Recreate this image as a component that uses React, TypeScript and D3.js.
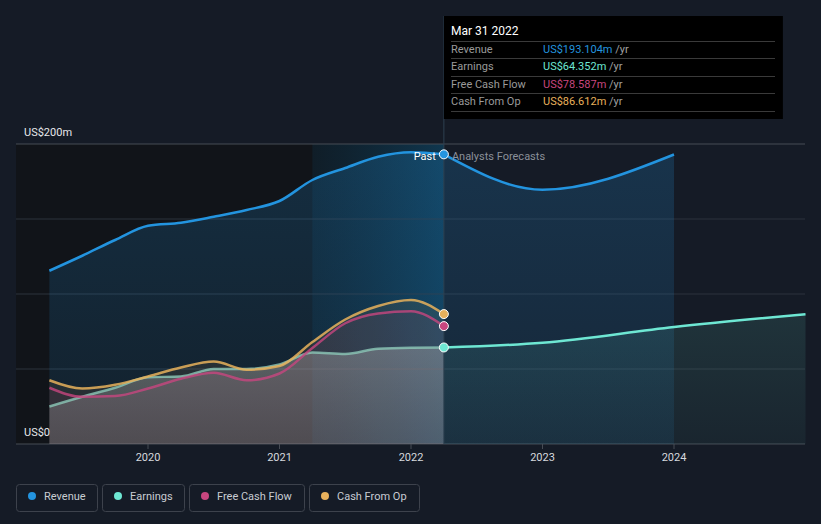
import React from "react";
import * as d3 from "d3";

const pastDates = [2019.25, 2019.5, 2019.75, 2020.0, 2020.25, 2020.5, 2020.75, 2021.0, 2021.25, 2021.5, 2021.75, 2022.0, 2022.25];
const revenuePast = [115.5, 125.5, 136, 145.5, 147.5, 151.5, 156, 162, 176, 184, 191.5, 194.5, 193.104];
const earningsPast = [25, 31.5, 37.5, 44.5, 45, 50, 50, 53, 61, 60, 63.5, 64.2, 64.352];
const fcfPast = [37.5, 31.5, 32, 37, 43.5, 47.5, 42.5, 47, 64, 80.5, 87, 88.5, 78.587];
const cfoPast = [42.5, 37, 39.5, 45, 51, 55, 49.5, 52, 68, 83, 92, 96, 86.612];

const revenueFcDates = [2022.25, 2023.0, 2024.0];
const revenueFc = [193.104, 169.5, 193];
const earningsFcDates = [2022.25, 2023.0, 2024.0, 2025.0];
const earningsFc = [64.352, 67.5, 78, 86.5];

const xTicks = [2020, 2021, 2022, 2023, 2024];
const yTicks = [0, 50, 100, 150, 200];

const seriesNames = ["Revenue", "Earnings", "Free Cash Flow", "Cash From Op"];
const seriesColors = ["#2394df", "#6ee7d3", "#c8467f", "#e8b15c"];
const tooltipValues = ["US$193.104m", "US$64.352m", "US$78.587m", "US$86.612m"];

const W = 821;
const H = 524;
const FONT = "Roboto, 'Open Sans', sans-serif";

export default function App() {
  const x = d3.scaleLinear().domain([2020, 2024]).range([148, 674]);
  const y = d3.scaleLinear().domain([0, 200]).range([444, 144]);
  const nowX = x(2022.25);
  const bandX = x(2021.25);
  const left = 16;
  const right = 805;

  const toPts = (ds: number[], vs: number[]) => ds.map((d, i) => [d, vs[i]] as [number, number]);
  const line = d3
    .line<[number, number]>()
    .x((d) => x(d[0]))
    .y((d) => y(d[1]))
    .curve(d3.curveMonotoneX);
  const area = d3
    .area<[number, number]>()
    .x((d) => x(d[0]))
    .y0(y(0))
    .y1((d) => y(d[1]))
    .curve(d3.curveMonotoneX);

  const rev = toPts(pastDates, revenuePast);
  const earn = toPts(pastDates, earningsPast);
  const fcf = toPts(pastDates, fcfPast);
  const cfo = toPts(pastDates, cfoPast);
  const revF = toPts(revenueFcDates, revenueFc);
  const earnF = toPts(earningsFcDates, earningsFc);

  const endVals = [revenuePast[12], earningsPast[12], fcfPast[12], cfoPast[12]];

  const legendBoxes = [
    { x: 16, w: 81 },
    { x: 102, w: 82 },
    { x: 189, w: 115 },
    { x: 309, w: 110 },
  ];

  return (
    <div style={{ position: "fixed", left: 0, top: 0, width: W, height: H }}>
      <svg width={W} height={H} style={{ display: "block", fontFamily: FONT }}>
        <defs>
          <linearGradient id="band" x1="0" y1="0" x2="1" y2="0">
            <stop offset="0" stopColor="#0c3a55" stopOpacity="0.25" />
            <stop offset="1" stopColor="#0e5a85" stopOpacity="0.5" />
          </linearGradient>
          <linearGradient id="revFill" x1="0" y1="0" x2="0" y2="1">
            <stop offset="0" stopColor="#2394df" stopOpacity="0.2" />
            <stop offset="1" stopColor="#2394df" stopOpacity="0.1" />
          </linearGradient>
          <linearGradient id="grayFill" x1="0" y1="0" x2="0" y2="1">
            <stop offset="0" stopColor="#b8b8b8" stopOpacity="0.36" />
            <stop offset="1" stopColor="#a8a8a8" stopOpacity="0.24" />
          </linearGradient>
          <linearGradient id="earnFcFill" x1="0" y1="0" x2="0" y2="1">
            <stop offset="0" stopColor="#6ee7d3" stopOpacity="0.12" />
            <stop offset="1" stopColor="#6ee7d3" stopOpacity="0.05" />
          </linearGradient>
        </defs>

        <rect x={0} y={0} width={W} height={H} fill="#151b26" />
        {/* past background */}
        <rect x={left} y={y(200)} width={nowX - left} height={y(0) - y(200)} fill="#111419" />
        {/* highlighted last year band */}
        <rect x={bandX} y={y(200)} width={nowX - bandX} height={y(0) - y(200)} fill="url(#band)" />

        {/* gridlines */}
        {yTicks.map((t) => (
          <line
            key={t}
            x1={left}
            x2={right}
            y1={y(t)}
            y2={y(t)}
            stroke={t === 200 || t === 0 ? "#474c55" : "#2c323c"}
            strokeWidth={1}
          />
        ))}

        {/* revenue fills */}
        <path d={area(rev) || ""} fill="url(#revFill)" />
        <path d={area(revF) || ""} fill="url(#revFill)" />

        {/* earnings forecast fill */}
        <path d={area(earnF) || ""} fill="url(#earnFcFill)" />

        {/* past cash fills */}
        <path d={area(cfo) || ""} fill="#e8b15c" fillOpacity={0.09} />
        <path d={area(fcf) || ""} fill="#c8467f" fillOpacity={0.08} />
        <path d={area(earn) || ""} fill="url(#grayFill)" />

        {/* lines */}
        <path d={line(revF) || ""} fill="none" stroke={seriesColors[0]} strokeWidth={2.5} />
        <path d={line(earnF) || ""} fill="none" stroke={seriesColors[1]} strokeWidth={2.5} />
        <path d={line(rev) || ""} fill="none" stroke={seriesColors[0]} strokeWidth={2.5} />
        <path d={line(earn) || ""} fill="none" stroke="#8cc8b8" strokeWidth={2.5} strokeOpacity={0.8} />
        <path d={line(fcf) || ""} fill="none" stroke={seriesColors[2]} strokeWidth={2.5} strokeOpacity={0.8} />
        <path d={line(cfo) || ""} fill="none" stroke={seriesColors[3]} strokeWidth={2.5} strokeOpacity={0.85} />

        {/* axis */}
        {xTicks.map((t) => (
          <g key={t}>
            <line x1={x(t)} x2={x(t)} y1={y(0)} y2={y(0) + 5} stroke="#474c55" />
            <text x={x(t)} y={461} fill="#d6d9de" fontSize={11} textAnchor="middle">
              {t}
            </text>
          </g>
        ))}
        <text x={24} y={136} fill="#e6e8eb" fontSize={11}>
          US$200m
        </text>
        <text x={24} y={436} fill="#e6e8eb" fontSize={11}>
          US$0
        </text>

        {/* now line */}
        <line x1={nowX} x2={nowX} y1={16} y2={y(0)} stroke="#2e4050" strokeWidth={1} />

        {/* end dots */}
        {endVals.map((v, i) => (
          <circle key={i} cx={nowX} cy={y(v)} r={4.5} fill={seriesColors[i]} stroke="#ffffff" strokeWidth={1} />
        ))}

        <text x={nowX - 8} y={160} fill="#ffffff" fontSize={11} textAnchor="end">
          Past
        </text>
        <text x={nowX + 8} y={160} fill="#8b9099" fontSize={11}>
          Analysts Forecasts
        </text>

        {/* tooltip */}
        <rect x={nowX} y={16} width={339} height={103} fill="#000000" />
        <text x={451} y={35} fill="#ffffff" fontSize={12}>
          Mar 31 2022
        </text>
        {[41, 58, 76, 93, 111].map((ly) => (
          <line key={ly} x1={451} x2={775} y1={ly + 0.5} y2={ly + 0.5} stroke="#3a3a3a" />
        ))}
        {seriesNames.map((n, i) => {
          const by = [53, 70, 88, 105][i];
          return (
            <g key={n}>
              <text x={451} y={by} fill="#9a9a9a" fontSize={11}>
                {n}
              </text>
              <text x={543} y={by} fontSize={11}>
                <tspan fill={seriesColors[i]}>{tooltipValues[i]}</tspan>
                <tspan fill="#a0a0a0"> /yr</tspan>
              </text>
            </g>
          );
        })}

        {/* legend */}
        {seriesNames.map((n, i) => (
          <g key={n}>
            <rect
              x={legendBoxes[i].x + 0.5}
              y={484.5}
              width={legendBoxes[i].w}
              height={27}
              rx={3}
              fill="none"
              stroke="#3d424c"
            />
            <circle cx={legendBoxes[i].x + 16} cy={496} r={4} fill={seriesColors[i]} />
            <text x={legendBoxes[i].x + 28} y={500} fill="#c8ccd2" fontSize={11}>
              {n}
            </text>
          </g>
        ))}
      </svg>
    </div>
  );
}
